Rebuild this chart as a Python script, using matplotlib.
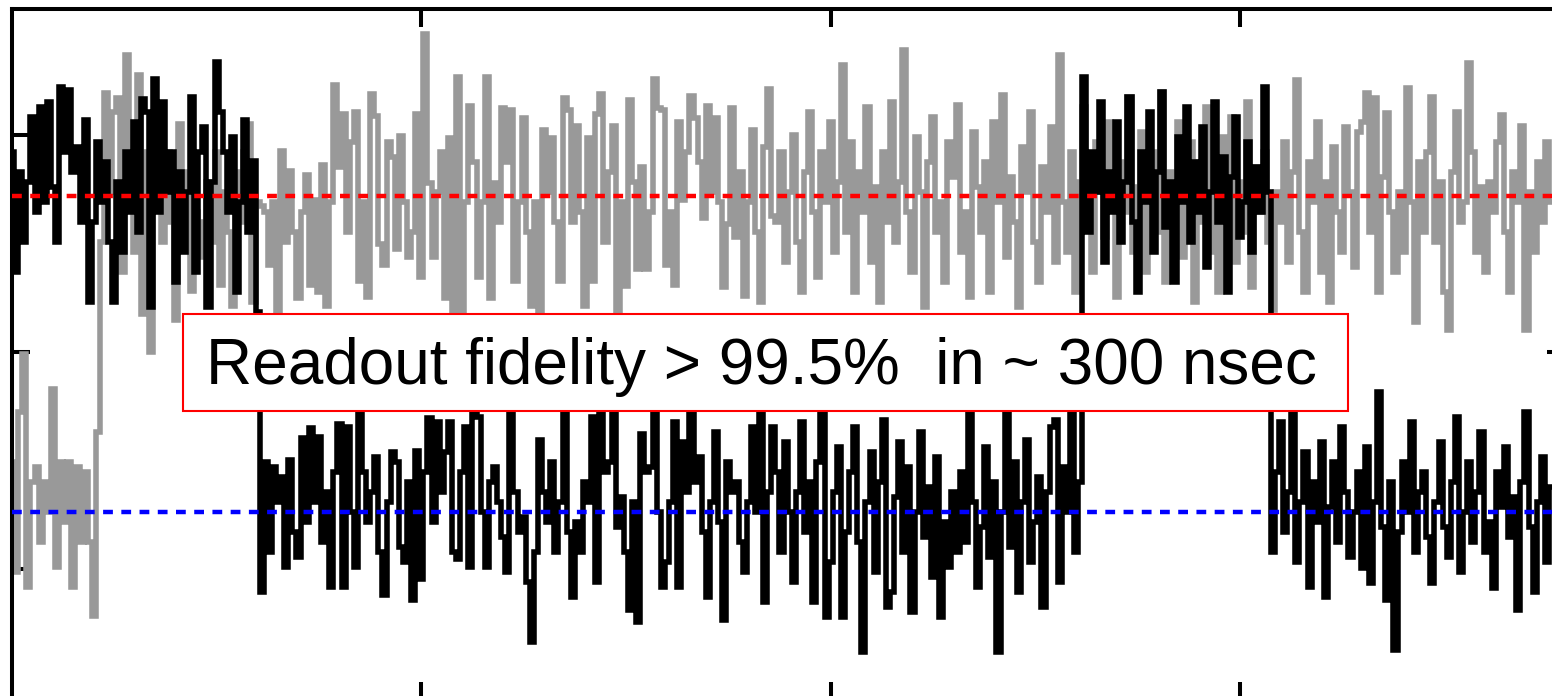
import numpy as np
import matplotlib
matplotlib.use("Agg")
import matplotlib.pyplot as plt
from matplotlib.patches import Rectangle

dt_us = 0.01

# Readout trace that is plotted in black (signal, a.u.)
trace_black = [
    200, 80, 180, 110, 170, 235, 140, 245, 150, 250,
    165, 110, 265, 200, 262, 180, 205, 130, 232, 50,
    130, 210, 150, 190, 110, 50, 170, 100, 200, 140,
    230, 120, 253, 240, 45, 273, 140, 250, 160, 200,
    70, 180, 100, 160, 255, 80, 200, 225, 45, 170,
    290, 240, 200, 140, 215, 60, 150, 232, 120, 191,
    40,
    -240, -110, -200, -115, -150, -125, -215, -108, -180, -205,
    -86, -170, -76, -150, -85, -190, -140, -235, -120, -72,
    -235, -75, -160, -215, -58, -120, -170, -140, -105, -200,
    -243, -150, -100,
    -110, -195, -210, -130, -248, -99, -227,
    -120, -66, -170, -70, -140, -100, -70, -200, -207, -120,
    -75, -215, -58, -65, -160, -215, -130, -115, -150, -185,
    -220, -50, -140, -180, -165, -230, -290, -200, -88, -140,
    -170, -110, -200, -150, -50, -180, -245, -170, -200, -130,
    -150, -65, -230, -55, -120, -110, -60, -175, -145, -200,
    -258, -150, -270, -82, -120, -115, -55, -160, -235, -210,
    -150, -70, -235, -90, -140, -60, -130, -105, -180, -245,
    -150, -80, -170, -268, -110, -140, -130, -190, -220, -150,
    -75, -160, -55, -250, -140, -75,
    -120, -200, -90, -160, -230, -140, -70, -180, -130, -250,
    -110, -60, -265, -210, -140, -95, -265, -180, -120, -75,
    -190, -300, -150, -100, -220, -130, -68, -255, -240, -145,
    -90, -200, -115, -260, -160, -80, -185, -135, -225, -105,
    -265, -170, -215, -140, -200, -120, -190, -58, -150, -235,
    -175, -95, -205, -130, -300, -160, -60, -195, -110, -240,
    -150, -88, -210, -170, -125, -255, -140, -75, -68, -230,
    -115, -160, -60, -200, -130,
    275, 120, 200, 160, 250, 90, 180, 140, 230, 110, 170,
    255, 130, 60, 200, 150, 240, 100, 180, 260, 125,
    170, 70, 215, 150, 245, 110, 190, 140, 225, 85,
    160, 250, 130, 195, 60, 175, 235, 115, 150, 210,
    100, 185, 140, 265, 160,
    -200, -120, -70, -180, -140, -60, -210, -150, -100, -235,
    -130, -170, -90, -245, -155, -110, -190, -75, -140, -205,
    -160, -120, -216, -95, -231, -150, -40, -175, -248, -130,
    -298, -180, -110, -160, -70, -200, -140, -120, -185, -231,
    -150, -90, -175, -205, -130, -65, -220, -160, -110, -190,
    -140, -80, -200, -170, -236, -120, -155, -95, -185, -145,
    -258, -130, -60, -175, -240, -150, -105, -210, -135, -180, -120,
]

# Readout trace that is plotted in grey (signal, a.u.)
trace_grey = [
    -110, -220, -60, -2, -235, -130, -115, -190, -130, -160,
    -37, -215, -110, -170, -110, -235, -115, -190, -120, -190,
    -264, -80, 110, 259,
    160, 240, 254, 80, 297, 180, 100, 277, 38, 200,
    0, 150, 180, 110, 200, 130, 32, 228, 150, 180, 61, 140,
    130, 95, 170, 110, 200, 67, 160, 120, 46, 180,
    130, 200, 228, 50, 150, 146, 140, 87, 150, 38,
    201, 110, 181, 120, 54, 140, 177, 67, 152, 60,
    187, 46, 150, 267, 185, 238, 120, 210, 240, 71,
    150, 55, 258, 236, 108, 87, 210,
    195, 103, 216, 150, 95, 120, 238, 75,
    318, 169, 95, 160, 200, 54, 214, 40, 275, 40,
    150, 246, 190, 75, 150, 275, 54, 169, 130, 244,
    190, 242, 71, 150, 234, 120, 46, 150, 40, 222,
    160, 214, 130, 71, 254, 242, 130, 226, 140, 46,
    214, 71, 238, 258, 110, 180, 226, 40, 150, 66,
    252, 170, 83, 185, 83, 140, 273, 244, 242, 87,
    140, 67, 230, 152, 200, 256, 234, 190, 134, 246,
    160, 234, 150, 65, 128, 244, 115, 180, 56, 150,
    222, 120, 50, 205, 263, 136,
    130, 200, 90, 160, 217, 110, 60, 180, 240, 140,
    75, 200, 150, 230, 100, 170, 287, 120, 210, 60,
    180, 140, 245, 90, 165, 50, 200, 130, 250, 110,
    170, 302, 140, 80, 215, 160, 45, 190, 235, 120,
    150, 70, 210, 175, 247, 100, 140, 55, 220, 165,
    120, 190, 60, 230, 150, 257, 95, 175, 130, 45,
    205, 160, 240, 110, 70, 185, 140, 225, 90, 297,
    150, 100, 200, 60, 170, 245, 130, 80, 210, 160,
    115, 230, 175, 55, 190, 140, 255, 100, 165, 220,
    80, 150, 200, 120, 260, 70, 180, 140, 230, 95,
    160, 210, 50, 190, 130, 245, 100, 175, 60, 215,
    150, 235, 90, 170, 120, 250, 65, 185, 140, 200,
    110, 42, 160, 130, 210, 90, 180, 272, 120, 60,
    190, 150, 230, 80, 170, 50, 205, 140, 100, 225,
    160, 85, 220, 230, 259, 120, 254, 60, 175, 239,
    140, 80, 160, 100, 264, 150, 30, 190, 120, 200,
    255, 110, 170, 60, 22, 180, 240, 130, 150, 289,
    200, 100, 165, 80, 170, 140, 210, 237, 120, 60,
    180, 150, 226, 22, 160, 100, 190, 130, 210, 150,
    90, 230,
]

# Mean signal of the two qubit states
level_high = 156
level_low = -160

# Axis ranges and tick positions
x_range = (0.0, 3.794)
y_range = (-348, 343)
x_ticks = [1, 2, 3]
y_ticks = [-217, 0, 217]
y_ticks_right = [0]

annotation = "Readout fidelity > 99.5%  in ~ 300 nsec"

W, H = 1552, 696
fig = plt.figure(figsize=(W / 100, H / 100), dpi=100)
ax = fig.add_axes([12 / W, -4 / H, 1553 / W, 691 / H])

t_black = np.arange(len(trace_black)) * dt_us
t_grey = np.arange(len(trace_grey)) * dt_us

ax.plot(t_grey, trace_grey, color="#999999", lw=4.0, drawstyle="steps-mid",
        solid_joinstyle="miter", zorder=2)
ax.plot(t_black, trace_black, color="black", lw=4.0, drawstyle="steps-mid",
        solid_joinstyle="miter", zorder=3)

ax.axhline(level_high, color="#ff0000", lw=3.2, dashes=(2.2, 1.9), zorder=4)
ax.axhline(level_low, color="#0000ff", lw=3.2, dashes=(2.2, 1.9), zorder=4)

ax.set_xlim(*x_range)
ax.set_ylim(*y_range)
ax.set_xticks(x_ticks)
ax.set_yticks(y_ticks)
ax.set_xticklabels([])
ax.set_yticklabels([])
ax.tick_params(axis="both", direction="in", length=13, width=2.9,
               top=True, bottom=True, left=True, right=False)
for sp in ax.spines.values():
    sp.set_linewidth(2.9)

sec = ax.secondary_yaxis("right")
sec.set_yticks(y_ticks_right)
sec.set_yticklabels([])
sec.tick_params(direction="in", length=13, width=2.9)
sec.spines["right"].set_linewidth(2.9)

# Annotation box with the fidelity statement
ax.add_patch(Rectangle((0.1101, 0.4186), 0.7502, 0.1395, transform=ax.transAxes,
                       facecolor="white", edgecolor="#ff0000", lw=1.5, zorder=6))
ax.text(0.4826, 0.4570, annotation, transform=ax.transAxes, ha="center",
        va="baseline", fontsize=46, family="Liberation Sans", color="black",
        zorder=7)

fig.savefig("out.png", dpi=100)
